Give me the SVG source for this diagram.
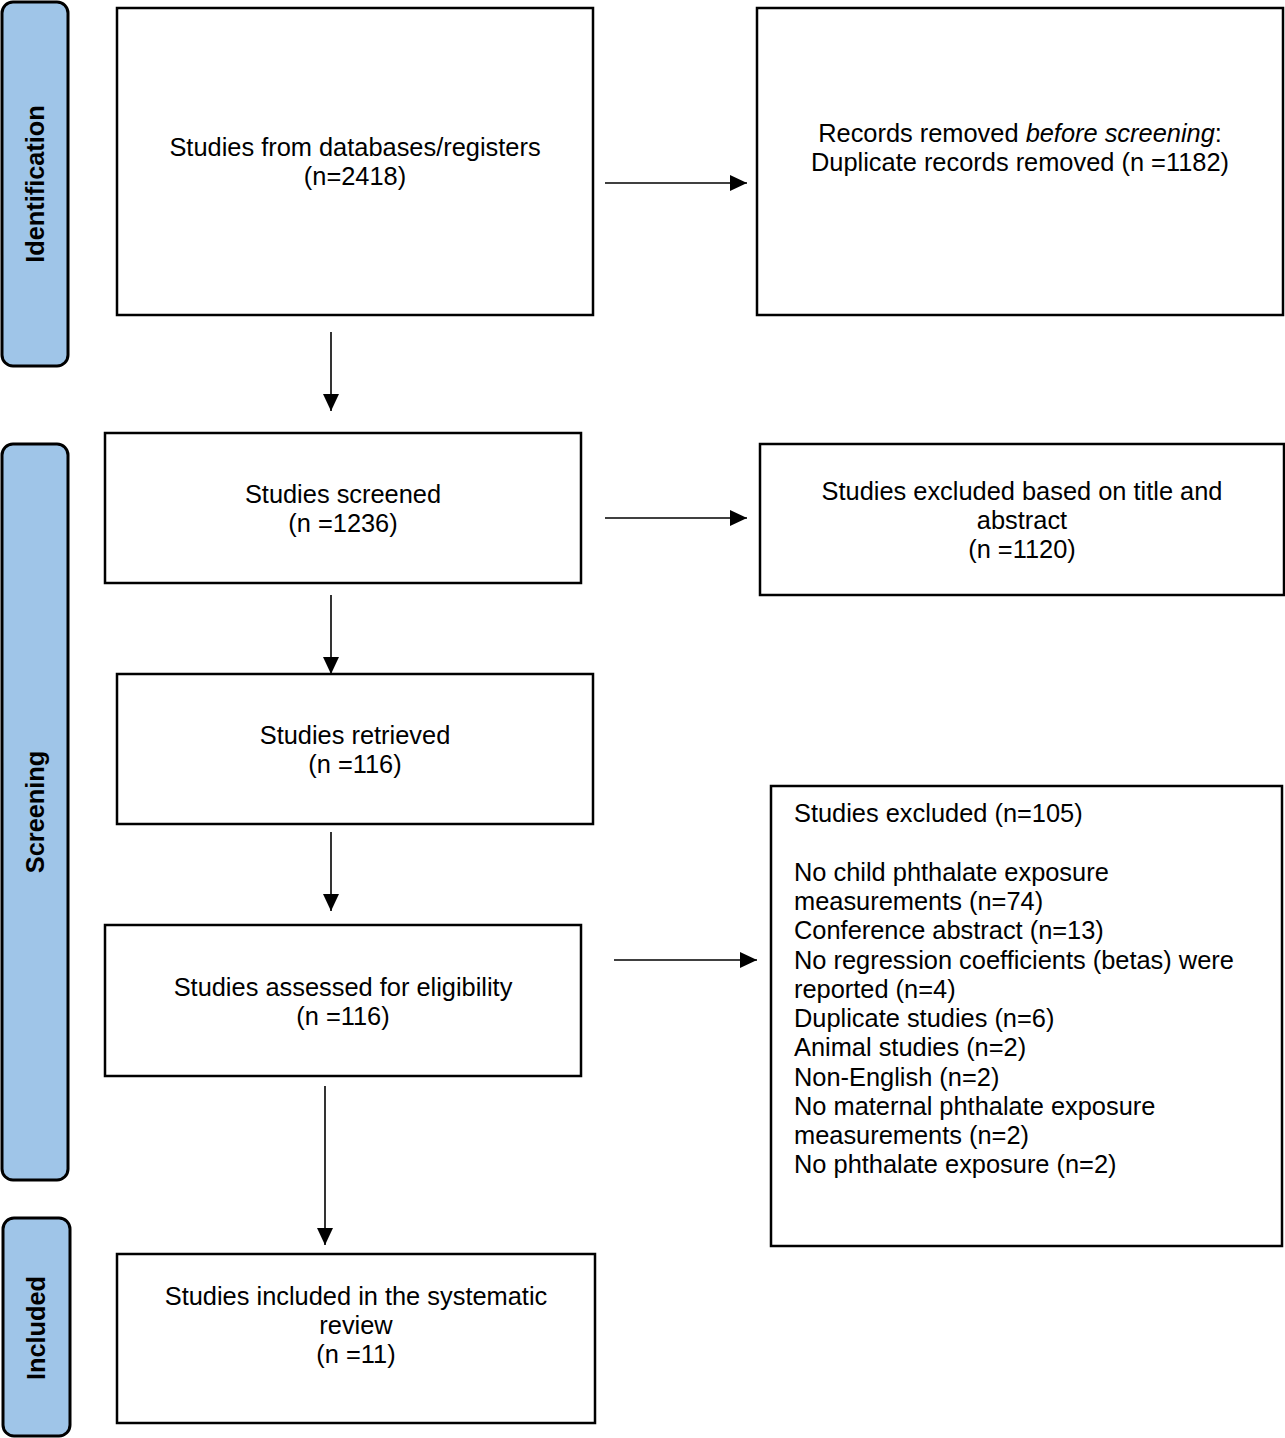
<svg xmlns="http://www.w3.org/2000/svg" width="1285" height="1438" viewBox="0 0 1285 1438">
<defs>
<style>
.box{fill:#fff;stroke:#000;stroke-width:2.5}
.phase{fill:#9fc5e8;stroke:#000;stroke-width:3}
.t{font-family:"Liberation Sans",Arial,sans-serif;font-size:25.4px;fill:#000}
.c{text-anchor:middle}
.pt{font-family:"Liberation Sans",Arial,sans-serif;font-size:25.3px;font-weight:bold;fill:#000;text-anchor:middle}
.ln{stroke:#000;stroke-width:1.6;fill:none}
</style>
<marker id="ah" markerWidth="17" markerHeight="16" refX="17" refY="8" orient="auto" markerUnits="userSpaceOnUse">
<path d="M0,0 L17,8 L0,16 Z" fill="#000"/>
</marker>
</defs>
<rect width="1285" height="1438" fill="#fff"/>
<g id="phase-identification">
<rect class="phase" x="2" y="2" width="66" height="364" rx="11"/>
<text class="pt" transform="translate(44,184) rotate(-90)">Identification</text>
</g>
<g id="phase-screening">
<rect class="phase" x="2" y="444" width="66" height="736" rx="11"/>
<text class="pt" transform="translate(44,812) rotate(-90)">Screening</text>
</g>
<g id="phase-included">
<rect class="phase" x="3" y="1218" width="67" height="218" rx="11"/>
<text class="pt" transform="translate(45,1328) rotate(-90)">Included</text>
</g>
<g id="connectors">
<line class="ln" x1="605" y1="183" x2="747" y2="183" marker-end="url(#ah)"/>
<line class="ln" x1="331" y1="332" x2="331" y2="411" marker-end="url(#ah)"/>
<line class="ln" x1="605" y1="518" x2="747" y2="518" marker-end="url(#ah)"/>
<line class="ln" x1="331" y1="595" x2="331" y2="674" marker-end="url(#ah)"/>
<line class="ln" x1="331" y1="832" x2="331" y2="911" marker-end="url(#ah)"/>
<line class="ln" x1="614" y1="960" x2="757" y2="960" marker-end="url(#ah)"/>
<line class="ln" x1="325" y1="1086" x2="325" y2="1245" marker-end="url(#ah)"/>
</g>
<g id="n-databases">
<rect class="box" x="117" y="8" width="476" height="307"/>
<text class="t c" x="355" y="156">Studies from databases/registers</text>
<text class="t c" x="355" y="185">(n=2418)</text>
</g>
<g id="n-removed">
<rect class="box" x="757" y="8" width="526" height="307"/>
<text class="t c" x="1020" y="142">Records removed <tspan font-style="italic">before screening</tspan>:</text>
<text class="t c" x="1020" y="171">Duplicate records removed (n =1182)</text>
</g>
<g id="n-screened">
<rect class="box" x="105" y="433" width="476" height="150"/>
<text class="t c" x="343" y="503">Studies screened</text>
<text class="t c" x="343" y="532">(n =1236)</text>
</g>
<g id="n-excluded-title">
<rect class="box" x="760" y="444" width="524" height="151"/>
<text class="t c" x="1022" y="500">Studies excluded based on title and</text>
<text class="t c" x="1022" y="529">abstract</text>
<text class="t c" x="1022" y="558">(n =1120)</text>
</g>
<g id="n-retrieved">
<rect class="box" x="117" y="674" width="476" height="150"/>
<text class="t c" x="355" y="744">Studies retrieved</text>
<text class="t c" x="355" y="773">(n =116)</text>
</g>
<g id="n-assessed">
<rect class="box" x="105" y="925" width="476" height="151"/>
<text class="t c" x="343" y="996">Studies assessed for eligibility</text>
<text class="t c" x="343" y="1025">(n =116)</text>
</g>
<g id="n-excluded-full">
<rect class="box" x="771" y="786" width="511" height="460"/>
<text class="t" x="794" y="822">Studies excluded (n=105)</text>
<text class="t" x="794" y="881">No child phthalate exposure</text>
<text class="t" x="794" y="910">measurements (n=74)</text>
<text class="t" x="794" y="939">Conference abstract (n=13)</text>
<text class="t" x="794" y="969">No regression coefficients (betas) were</text>
<text class="t" x="794" y="998">reported (n=4)</text>
<text class="t" x="794" y="1027">Duplicate studies (n=6)</text>
<text class="t" x="794" y="1056">Animal studies (n=2)</text>
<text class="t" x="794" y="1086">Non-English (n=2)</text>
<text class="t" x="794" y="1115">No maternal phthalate exposure</text>
<text class="t" x="794" y="1144">measurements (n=2)</text>
<text class="t" x="794" y="1173">No phthalate exposure (n=2)</text>
</g>
<g id="n-included">
<rect class="box" x="117" y="1254" width="478" height="169"/>
<text class="t c" x="356" y="1305">Studies included in the systematic</text>
<text class="t c" x="356" y="1334">review</text>
<text class="t c" x="356" y="1363">(n =11)</text>
</g>
</svg>
